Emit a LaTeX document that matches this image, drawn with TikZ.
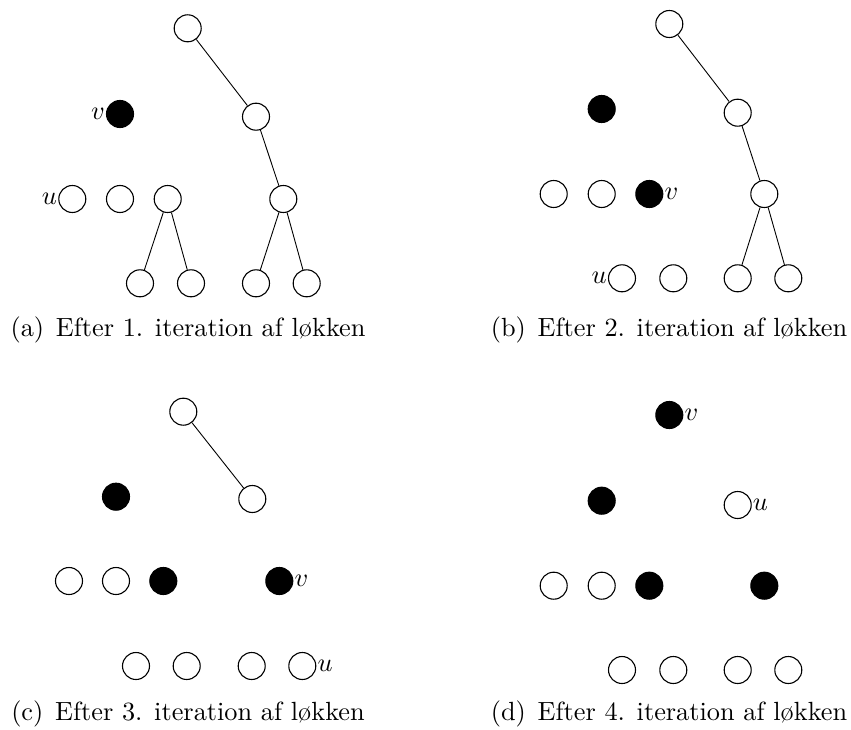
\documentclass[tikz,border=0pt]{standalone}
\usepackage{fontspec}
\setmainfont{lmroman10-regular}[Extension=.otf]
\DeclareFontShape{OML}{cmm}{m}{it}{<->cmmi10}{}
\newcommand{\labsep}{\hspace{3pt}}
\begin{document}
\begin{tikzpicture}[x=1pt,y=-1pt,
  every node/.style={font=\fontsize{26.3}{32}\selectfont},
  vtx/.style={circle,draw,line width=1.1pt,minimum size=27pt,inner sep=0pt},
  blk/.style={vtx,fill=black},
  lbl/.style={inner sep=1pt},
  edge/.style={line width=0.9pt},
  captxt/.style={anchor=base,inner sep=0pt}]
\useasboundingbox (0,0) rectangle (851,730);
% (a)
\node[vtx] (a1) at (187.7,28.3) {};
\node[blk,label={[lbl]left:$v$}] (a2) at (120,114) {};
\node[vtx] (a3) at (256,116.7) {};
\node[vtx,label={[lbl]left:$u$}] (a4) at (72.3,199) {};
\node[vtx] (a5) at (120,199) {};
\node[vtx] (a6) at (167.7,199) {};
\node[vtx] (a7) at (283.3,199) {};
\node[vtx] (a8) at (140,283.3) {};
\node[vtx] (a9) at (191,283.3) {};
\node[vtx] (a10) at (256,283.3) {};
\node[vtx] (a11) at (306.7,283.3) {};
\draw[edge] (a1)--(a3) (a3)--(a7) (a6)--(a8) (a6)--(a9) (a7)--(a10) (a7)--(a11);
\node[captxt] (capa) at (188,336.7) {(a) \labsep Efter 1. iteration af løkken};
% (b)
\node[vtx] (b1) at (669.3,24) {};
\node[blk] (b2) at (601.7,109) {};
\node[vtx] (b3) at (737.7,112.7) {};
\node[vtx] (b4) at (553.7,194) {};
\node[vtx] (b5) at (601.7,194) {};
\node[blk,label={[lbl]right:$v$}] (b6) at (649.3,194) {};
\node[vtx] (b7) at (764.3,194) {};
\node[vtx,label={[lbl]left:$u$}] (b8) at (622,278.3) {};
\node[vtx] (b9) at (673.3,278.3) {};
\node[vtx] (b10) at (737.7,278.3) {};
\node[vtx] (b11) at (788.3,278.3) {};
\draw[edge] (b1)--(b3) (b3)--(b7) (b7)--(b10) (b7)--(b11);
\node[captxt] (capb) at (669,336.7) {(b) \labsep Efter 2. iteration af løkken};
% (c)
\node[vtx] (c1) at (183.3,411.7) {};
\node[blk] (c2) at (116,496.7) {};
\node[vtx] (c3) at (252.3,499) {};
\node[vtx] (c4) at (69,581) {};
\node[vtx] (c5) at (116,581) {};
\node[blk] (c6) at (163.3,581) {};
\node[blk,label={[lbl]right:$v$}] (c7) at (279.3,581) {};
\node[vtx] (c8) at (136,666) {};
\node[vtx] (c9) at (186.7,666) {};
\node[vtx] (c10) at (251.7,666) {};
\node[vtx,label={[lbl]right:$u$}] (c11) at (302.3,666) {};
\draw[edge] (c1)--(c3);
\node[captxt] (capc) at (188,720.7) {(c) \labsep Efter 3. iteration af løkken};
% (d)
\node[blk,label={[lbl]right:$v$}] (d1) at (669.3,415) {};
\node[blk] (d2) at (601.7,500.7) {};
\node[vtx,label={[lbl]right:$u$}] (d3) at (737.7,505) {};
\node[vtx] (d4) at (553.7,585.7) {};
\node[vtx] (d5) at (601.7,585.7) {};
\node[blk] (d6) at (649.3,585.7) {};
\node[blk] (d7) at (764.3,585.7) {};
\node[vtx] (d8) at (622,670) {};
\node[vtx] (d9) at (673.3,670) {};
\node[vtx] (d10) at (737.7,670) {};
\node[vtx] (d11) at (788.3,670) {};
\node[captxt] (capd) at (669,720.7) {(d) \labsep Efter 4. iteration af løkken};
\end{tikzpicture}
\end{document}
